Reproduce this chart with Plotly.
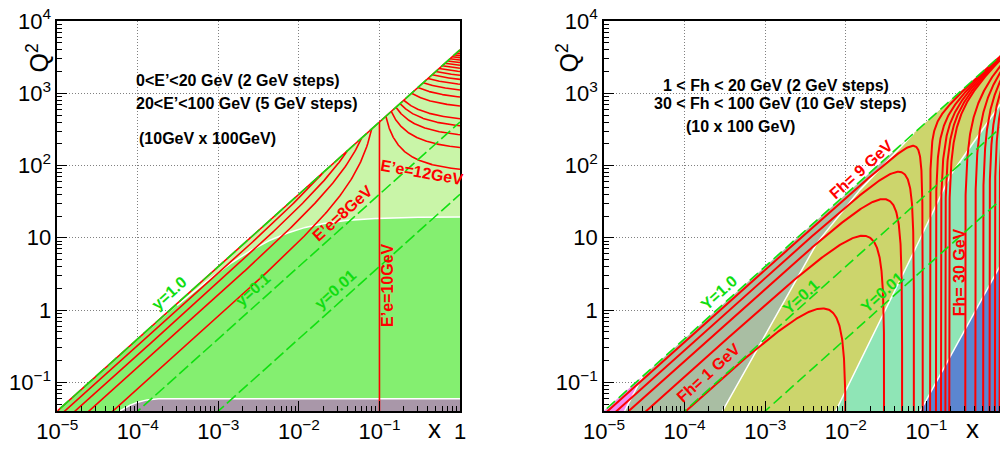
import numpy as np
import plotly.graph_objects as go

# ---------------- data ----------------
E_BEAM_E = 10.0    # GeV electron beam
E_BEAM_P = 100.0   # GeV proton beam
S = 4 * E_BEAM_E * E_BEAM_P

EPRIME_LOW = [2, 4, 6, 8]
EPRIME_MID = [10]
EPRIME_HIGH = [12, 14, 16, 18, 20, 25, 30, 35, 40, 45, 50, 55, 60, 65, 70, 75, 80, 85, 90, 95]
FH_LOW = [1, 3, 5, 7, 9]
FH_HIGH = [11, 13, 15, 17, 19, 30, 40, 50, 60, 70, 80, 90]
Y_LINES = [1.0, 0.1, 0.01]

X_RANGE = [1e-5, 1.0]
Q2_RANGE = [0.04, 1e4]

X_TICKS = [1e-5, 1e-4, 1e-3, 1e-2, 1e-1, 1]
X_TICKTEXT = ["10<sup>\u22125</sup>", "10<sup>\u22124</sup>", "10<sup>\u22123</sup>",
              "10<sup>\u22122</sup>", "10<sup>\u22121</sup>", "1"]
Y_TICKS = [1e-1, 1, 10, 1e2, 1e3, 1e4]
Y_TICKTEXT = ["10<sup>\u22121</sup>", "1", "10", "10<sup>2</sup>", "10<sup>3</sup>", "10<sup>4</sup>"]

# region boundaries (left panel)
EANGLE_Q2_PLATEAU = 19.5
PURPLE_X = [6.0e-5, 8.0e-5, 1.0e-4, 1.3e-4, 1.8e-4, 1.0]
PURPLE_Q2 = [0.04, 0.048, 0.053, 0.057, 0.059, 0.059]
# region boundaries (right panel)
LP_X = [1.8e-5, 3.0e-5]
LP_Q2 = [0.04, 0.12]
L1_X = [2.95e-4, 1.5e-3, 4.4e-3, 1.5e-2, 4.75e-2, 7.0e-2]
L1_Q2 = [0.04, 1.0, 8.5, 46, 181, 280]
L2_X = [7.5e-3, 0.069, 0.2, 1.0]
L2_Q2 = [0.04, 6.2, 74, 955]
L3_X = [0.084, 1.0]
L3_Q2 = [0.04, 6.1]

# labels: (text, x, Q2, angle, colour)
LEFT_LABELS = [
    ("y=1.0", 2.5e-4, 1.73, -42, "green"),
    ("y=0.1", 2.7e-3, 1.9, -42, "green"),
    ("y=0.01", 2.83e-2, 1.9, -42, "green"),
    ("E\u2019e=8GeV", 3.44e-2, 22, -42, "red"),
    ("E\u2019e=10GeV", 0.128, 2.23, -90, "red"),
    ("E\u2019e=12GeV", 0.342, 79, 10, "red"),
]
RIGHT_LABELS = [
    ("Y=1.0", 2.69e-4, 1.73, -42, "green"),
    ("Y=0.1", 2.8e-3, 1.52, -42, "green"),
    ("Y=0.01", 2.84e-2, 1.73, -42, "green"),
    ("Fh= 1 GeV", 2.0e-4, 0.135, -42, "red"),
    ("Fh= 9 GeV", 1.56e-2, 87, -42, "red"),
    ("Fh= 30 GeV", 0.257, 3.37, -90, "red"),
]
LEFT_TEXT = ["0<E\u2019<20 GeV (2 GeV steps)", "20<E\u2019<100 GeV (5 GeV steps)", "(10GeV x 100GeV)"]
RIGHT_TEXT = ["1 < Fh < 20 GeV (2 GeV steps)", "30 < Fh < 100 GeV (10 GeV steps)", "(10 x 100 GeV)"]

# ---------------- styling ----------------
OFF = 8                      # page body margin of the browser
W, H = 1008 - OFF, 457 - OFF
FONT = "Liberation Sans, Arial, Helvetica, sans-serif"
RED = "#ff0000"
GREEN = "#10e010"
GREEN_TXT = "#11dd11"
C_PALE = "#c9f5a8"
C_BRIGHT = "#84ef70"
C_PURPLE = "#a997a9"
C_GRAY = "#a9bea3"
C_YELLOW = "#ccd56c"
C_TEAL = "#8fe5b6"
C_BLUE = "#5b86d0"
C_PINK = "#f08cf0"

L_X0, L_X1 = 57.3, 460.0
R_X0, R_X1 = 604.0, 1007.0
Y_TOP, Y_BOT = 21.0, 411.0


def fx(px):
    return (px - OFF) / W


def fy(py):
    return 1 - (py - OFF) / H


fig = go.Figure()


def dense(a, b, n=400):
    return np.logspace(np.log10(a), np.log10(b), n)


def add_line(xs, qs, ax, color, width, dash="solid"):
    fig.add_trace(go.Scatter(x=xs, y=qs, mode="lines", xaxis=ax[0], yaxis=ax[1],
                             line=dict(color=color, width=width, dash=dash),
                             hoverinfo="skip", showlegend=False))


def add_fill(xs, qs, ax, color):
    fig.add_trace(go.Scatter(x=xs, y=qs, mode="lines", fill="toself", fillcolor=color,
                             xaxis=ax[0], yaxis=ax[1], line=dict(width=0, color=color),
                             hoverinfo="skip", showlegend=False))


LAX = ("x", "y")
RAX = ("x2", "y2")
xa, xb = X_RANGE
qa, qb = Q2_RANGE
qdiag_end = S * xb

# ---------- left panel fills ----------
add_fill([xa, xb, xb, xa], [S * xa, qdiag_end, qa, qa], LAX, C_PALE)
xe = np.logspace(np.log10(xa), np.log10(xb), 300)
qe = EANGLE_Q2_PLATEAU * S * xe / (S * xe + EANGLE_Q2_PLATEAU)
add_fill(list(xe) + [xb, xa], list(qe) + [qa, qa], LAX, C_BRIGHT)
add_fill(PURPLE_X + [xb, PURPLE_X[0]], PURPLE_Q2 + [qa, qa], LAX, C_PURPLE)
sel = xe > 3e-4
add_line(xe[sel], qe[sel], LAX, "white", 1.5)
add_line(PURPLE_X, PURPLE_Q2, LAX, "white", 1.5)

# ---------- left panel curves ----------
for ep in EPRIME_LOW:
    xs = dense(1e-6, ep / E_BEAM_P)
    ys = (E_BEAM_E - ep) / (E_BEAM_E - xs * E_BEAM_P)
    add_line(xs, S * xs * ys, LAX, RED, 1.6)
for ep in EPRIME_MID:
    xv = ep / E_BEAM_P
    add_line([xv, xv], [0.01, S * xv], LAX, RED, 1.6)
for ep in EPRIME_HIGH:
    xs = dense(ep / E_BEAM_P, 1.0)
    ys = (ep - E_BEAM_E) / (xs * E_BEAM_P - E_BEAM_E)
    add_line(xs, S * xs * ys, LAX, RED, 1.6)
xl = np.array([1e-6, 1.0])
add_line(xl, S * xl, LAX, RED, 1.6)
for yv in Y_LINES:
    add_line(xl, S * xl * yv, LAX, GREEN, 1.6, dash="12px,4px")

# ---------- right panel fills ----------
add_fill([xa, xb, xb, xa], [S * xa, qdiag_end, qa, qa], RAX, C_GRAY)
add_fill([xa, LP_X[-1]] + LP_X[::-1], [S * xa, LP_Q2[-1]] + LP_Q2[::-1], RAX, C_PINK)
add_fill(L1_X + [xb, xb, L1_X[0]], L1_Q2 + [qdiag_end, qa, qa], RAX, C_YELLOW)
add_fill(L2_X + [xb, L2_X[0]], L2_Q2 + [qa, qa], RAX, C_TEAL)
add_fill(L3_X + [xb, L3_X[0]], L3_Q2 + [qa, qa], RAX, C_BLUE)
for bx, bq in [(LP_X, LP_Q2), (L1_X, L1_Q2), (L2_X, L2_Q2), (L3_X, L3_Q2)]:
    add_line(bx, bq, RAX, "white", 1.5)

# ---------- right panel curves ----------
for fh in FH_LOW:
    b = fh / E_BEAM_P
    xs = np.unique(np.concatenate([np.logspace(-6, np.log10(b), 400)[:-1],
                                   b - np.logspace(-9, np.log10(b * 0.5), 300)]))
    xs = xs[(xs > 0) & (xs < b)]
    ys = (fh - xs * E_BEAM_P) / (E_BEAM_E - xs * E_BEAM_P)
    add_line(xs, S * xs * ys, RAX, RED, 2.0)
for fh in FH_HIGH:
    a = fh / E_BEAM_P
    xs = np.unique(np.concatenate([a + np.logspace(-9, np.log10(1 - a), 300),
                                   np.logspace(np.log10(a), 0, 200)[1:]]))
    xs = xs[(xs > a) & (xs <= 1.0)]
    ys = (xs * E_BEAM_P - fh) / (xs * E_BEAM_P - E_BEAM_E)
    add_line(xs, S * xs * ys, RAX, RED, 2.0)
for yv in Y_LINES:
    add_line(xl, S * xl * yv, RAX, GREEN, 1.6, dash="11px,5px")

# ---------- axes ----------
MINOR_X = [m * 10.0 ** e for e in range(-5, 0) for m in range(2, 10)]
MINOR_Y = [m * 10.0 ** e for e in range(-2, 4) for m in range(2, 10)]


def axis_common():
    return dict(type="log", ticks="inside", ticklen=10, tickcolor="black", tickwidth=1.2,
                showline=True, linecolor="black", linewidth=1.5, mirror=True,
                showgrid=True, gridcolor="#808080", griddash="1px,2px", gridwidth=1,
                tickfont=dict(family=FONT, size=22, color="black"),
                ticklabeloverflow="allow", layer="above traces",
                zeroline=False, automargin=False)


def xaxis_cfg(x0, x1, anchor):
    d = axis_common()
    d.update(range=[np.log10(xa), np.log10(xb)], domain=[fx(x0), fx(x1)], anchor=anchor,
             tickvals=X_TICKS, ticktext=X_TICKTEXT,
             minor=dict(tickmode="array", tickvals=MINOR_X, ticks="inside", ticklen=5,
                        tickcolor="black", tickwidth=1, showgrid=False))
    return d


def yaxis_cfg(anchor):
    d = axis_common()
    d.update(range=[np.log10(qa), np.log10(qb)], domain=[fy(Y_BOT), fy(Y_TOP)], anchor=anchor,
             tickvals=Y_TICKS, ticktext=Y_TICKTEXT,
             minor=dict(tickmode="array", tickvals=MINOR_Y, ticks="inside", ticklen=5,
                        tickcolor="black", tickwidth=1, showgrid=False))
    return d


fig.update_layout(
    width=W, height=H, margin=dict(l=0, r=0, t=0, b=0),
    paper_bgcolor="white", plot_bgcolor="white", showlegend=False,
    xaxis=xaxis_cfg(L_X0, L_X1, "y"), yaxis=yaxis_cfg("x"),
    xaxis2=xaxis_cfg(R_X0, R_X1, "y2"), yaxis2=yaxis_cfg("x2"),
)

ann = []
for (txt, lx, lq, ang, col), axn in [(l, "") for l in LEFT_LABELS] + [(l, "2") for l in RIGHT_LABELS]:
    ann.append(dict(text="<b>" + txt + "</b>", x=np.log10(lx), y=np.log10(lq),
                    xref="x" + axn, yref="y" + axn, showarrow=False, textangle=ang,
                    font=dict(family=FONT, size=16, color=GREEN_TXT if col == "green" else RED)))
for txt, px, py in zip(LEFT_TEXT, [134, 134, 137], [80, 104, 139]):
    ann.append(dict(text="<b>" + txt + "</b>", x=fx(px), y=fy(py), xref="paper", yref="paper",
                    xanchor="left", yanchor="middle", showarrow=False,
                    font=dict(family=FONT, size=16, color="black")))
for txt, px, py in zip(RIGHT_TEXT, [661, 652, 684], [85, 104, 126]):
    ann.append(dict(text="<b>" + txt + "</b>", x=fx(px), y=fy(py), xref="paper", yref="paper",
                    xanchor="left", yanchor="middle", showarrow=False,
                    font=dict(family=FONT, size=16, color="black")))
for qx in [19, 567]:
    ann.append(dict(text="Q<sup>2</sup>", x=fx(qx), y=fy(42), xref="paper", yref="paper",
                    showarrow=False, textangle=-90, font=dict(family=FONT, size=25, color="black")))
for xx in [434, 981]:
    ann.append(dict(text="x", x=fx(xx), y=fy(446), xref="paper", yref="paper",
                    showarrow=False, font=dict(family=FONT, size=26, color="black")))
fig.update_layout(annotations=ann)

fig.write_html("out.html")
